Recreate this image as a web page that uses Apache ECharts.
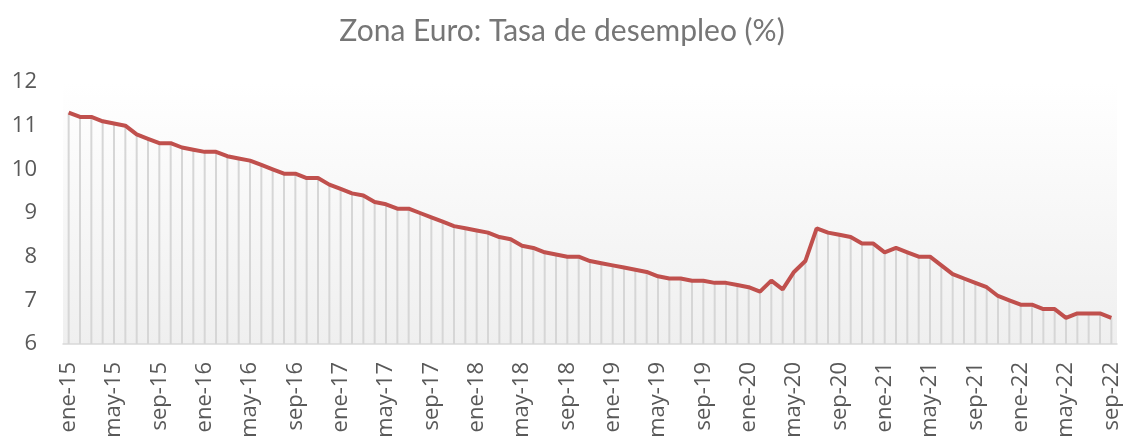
<!DOCTYPE html>
<html>
<head>
<meta charset="utf-8">
<title>Zona Euro: Tasa de desempleo</title>
<script src="https://cdn.jsdelivr.net/npm/echarts@6/dist/echarts.min.js"></script>
<style>
  html, body { margin: 0; padding: 0; background: #fff; }
  #chart { width: 1124px; height: 444px; }
</style>
</head>
<body>
<div id="chart"></div>
<script>
// meses en español, ene-15 .. sep-22
const monthNames = ['ene', 'feb', 'mar', 'abr', 'may', 'jun', 'jul', 'ago', 'sep', 'oct', 'nov', 'dic']
const years = ['15', '16', '17', '18', '19', '20', '21', '22']
const lastMonthCount = 9 // hasta sep-22

const categories = []
years.forEach((y, yi) => {
  const n = yi === years.length - 1 ? lastMonthCount : 12
  for (let m = 0; m < n; m++) categories.push(monthNames[m] + '-' + y)
})

// tasa de desempleo (%)
const rate2015 = [11.3, 11.2, 11.2, 11.1, 11.05, 11.0, 10.8, 10.7, 10.6, 10.6, 10.5, 10.45]
const rate2016 = [10.4, 10.4, 10.3, 10.25, 10.2, 10.1, 10.0, 9.9, 9.9, 9.8, 9.8, 9.65]
const rate2017 = [9.55, 9.45, 9.4, 9.25, 9.2, 9.1, 9.1, 9.0, 8.9, 8.8, 8.7, 8.65]
const rate2018 = [8.6, 8.55, 8.45, 8.4, 8.25, 8.2, 8.1, 8.05, 8.0, 8.0, 7.9, 7.85]
const rate2019 = [7.8, 7.75, 7.7, 7.65, 7.55, 7.5, 7.5, 7.45, 7.45, 7.4, 7.4, 7.35]
const rate2020 = [7.3, 7.2, 7.45, 7.25, 7.65, 7.9, 8.65, 8.55, 8.5, 8.45, 8.3, 8.3]
const rate2021 = [8.1, 8.2, 8.1, 8.0, 8.0, 7.8, 7.6, 7.5, 7.4, 7.3, 7.1, 7.0]
const rate2022 = [6.9, 6.9, 6.8, 6.8, 6.6, 6.7, 6.7, 6.7, 6.6]

const rates = [].concat(rate2015, rate2016, rate2017, rate2018, rate2019, rate2020, rate2021, rate2022)

const yTicks = { min: 6, max: 12, interval: 1 }

const chart = echarts.init(document.getElementById('chart'))
chart.setOption({
  animation: false,
  title: {
    text: 'Zona Euro: Tasa de desempleo (%)',
    left: 'center',
    top: 11,
    textStyle: {
      fontFamily: 'Lato',
      fontSize: 30,
      fontWeight: 'normal',
      color: '#767676'
    }
  },
  grid: {
    left: 63,
    right: 7,
    top: 82,
    bottom: 100,
    show: true,
    borderWidth: 0,
    backgroundColor: new echarts.graphic.LinearGradient(0, 0, 0, 1, [
      { offset: 0, color: '#ffffff' },
      { offset: 1, color: '#efefef' }
    ])
  },
  xAxis: {
    type: 'category',
    data: categories,
    boundaryGap: true,
    axisTick: { show: false },
    axisLine: { lineStyle: { color: '#d9d9d9', width: 1.5 } },
    axisLabel: {
      interval: 3,
      rotate: 90,
      margin: 18,
      fontFamily: 'Open Sans',
      fontSize: 22,
      color: '#595959'
    }
  },
  yAxis: {
    type: 'value',
    min: yTicks.min,
    max: yTicks.max,
    interval: yTicks.interval,
    splitLine: { show: false },
    axisLine: { show: false },
    axisTick: { show: false },
    axisLabel: {
      margin: 26,
      fontFamily: 'Open Sans',
      fontSize: 22,
      color: '#595959'
    }
  },
  series: [
    {
      // líneas de caída hasta el eje
      type: 'bar',
      data: rates,
      barWidth: 2,
      clip: true,
      itemStyle: { color: '#d6d6d6' },
      silent: true,
      z: 1
    },
    {
      type: 'line',
      data: rates,
      symbol: 'none',
      lineStyle: { color: '#c0504d', width: 4 },
      z: 3
    }
  ]
})
</script>
</body>
</html>
